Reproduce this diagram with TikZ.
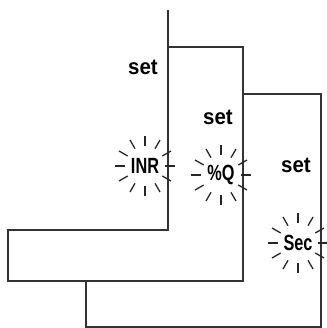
\documentclass[tikz,border=0pt]{standalone}
\usepackage{fontspec}
\setmainfont{Liberation Sans}

\tikzset{
  wall/.style={line width=1.6pt, draw=black!80},
  ray/.style={line width=1.3pt, draw=black!85},
  setlabel/.style={font=\bfseries\fontsize{22}{22}\selectfont, inner sep=0pt},
  lamp/.style={font=\bfseries\fontsize{22}{22}\selectfont, inner sep=0pt},
}
\newcommand{\settext}{\scalebox{0.93}[1]{set}}
\newcommand{\lamptext}[1]{\scalebox{0.74}[1]{#1}}

\begin{document}
\begin{tikzpicture}[x=1pt,y=-1pt]
\useasboundingbox (0,0) rectangle (326,328);
% outlines
\draw[wall] (168,10) -- (168,230) -- (8,230) -- (8,281) -- (243,281)
  -- (243,47) -- (168,47);
\draw[wall] (243,94) -- (321,94) -- (321,327) -- (86,327) -- (86,281);
% labels
\node[setlabel] (set1) at (143,67) {\settext};
\node[setlabel] (set2) at (218,117) {\settext};
\node[setlabel] (set3) at (296,165) {\settext};
\node[lamp] (inr) at (145,166) {\lamptext{INR}};
\node[lamp] (pq) at (221,175) {\lamptext{\%Q}};
\node[lamp] (sec) at (298,243) {\lamptext{Sec}};
% blinking rays
\foreach \lampname in {inr,pq,sec}
  \foreach \a in {0,30,...,330}
    \draw[ray] (\lampname.center) ++(\a:20) -- ++(\a:10);
\end{tikzpicture}
\end{document}
